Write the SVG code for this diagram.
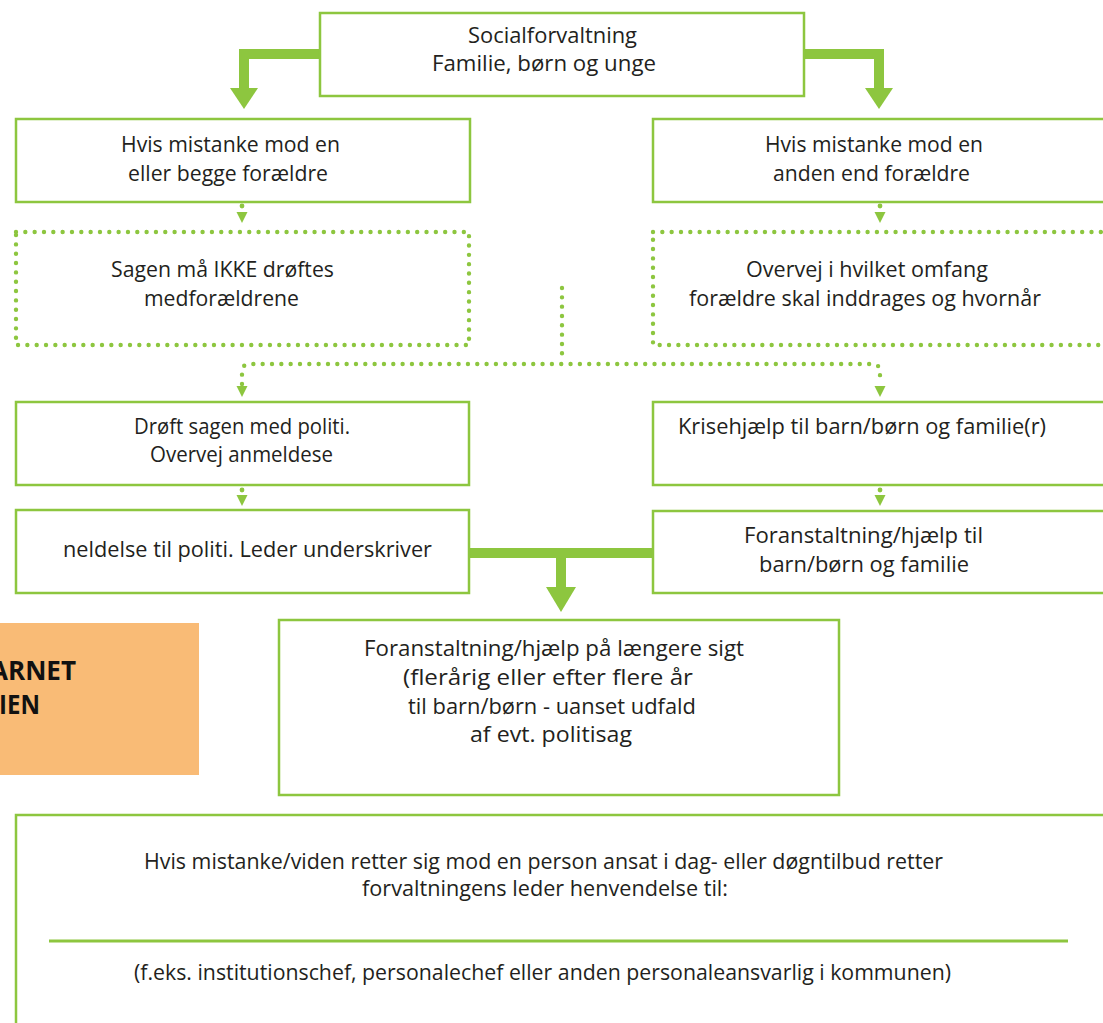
<svg xmlns="http://www.w3.org/2000/svg" width="1103" height="1023" viewBox="0 0 1103 1023">
<style>
.box{fill:#fff;stroke:#8DC63F;stroke-width:2.5}
.dbox{fill:#fff;stroke:#8DC63F;stroke-width:4.4;stroke-dasharray:0 9.33;stroke-linecap:round}
.t{font-family:"Open Sans","Noto Sans",sans-serif;font-size:21px;fill:#231F20}
.b{font-family:"Open Sans","Noto Sans",sans-serif;font-size:27px;font-weight:700;fill:#111}
.thick{fill:none;stroke:#8DC63F;stroke-width:10;stroke-linejoin:miter}
.dot{fill:none;stroke:#8DC63F;stroke-width:4.4;stroke-dasharray:0 9.33;stroke-linecap:round}
.ah{fill:#8DC63F}
</style>
<rect width="1103" height="1023" fill="#fff"/>
<g id="connectors">
<path class="thick" d="M320 54 H244 V90"/>
<polygon class="ah" points="230,88 258,88 244,109"/>
<path class="thick" d="M804 54 H879 V90"/>
<polygon class="ah" points="865,88 893,88 879,109"/>
<circle class="ah" cx="242" cy="206" r="2.4"/>
<polygon class="ah" points="236.5,212 247.5,212 242,223"/>
<circle class="ah" cx="880" cy="206" r="2.4"/>
<polygon class="ah" points="874.5,212 885.5,212 880,223"/>
<path class="dot" d="M562 288 V356"/>
<path class="dot" d="M242 384 V372 Q242 364 250 364 H872 Q880 364 880 372 V384"/>
<polygon class="ah" points="236.5,386 247.5,386 242,397"/>
<polygon class="ah" points="874.5,386 885.5,386 880,397"/>
<circle class="ah" cx="242" cy="490" r="2.4"/>
<polygon class="ah" points="236.5,495 247.5,495 242,506"/>
<circle class="ah" cx="880" cy="490" r="2.4"/>
<polygon class="ah" points="874.5,495 885.5,495 880,506"/>
<path class="thick" d="M470 553 H653 M561 553 V590"/>
<polygon class="ah" points="546,587 576,587 561,612"/>
</g>
<g id="n-social">
<rect class="box" x="320" y="13" width="484" height="83"/>
<text class="t" x="468" y="43" textLength="169" lengthAdjust="spacingAndGlyphs">Socialforvaltning</text>
<text class="t" x="432" y="71" textLength="224" lengthAdjust="spacingAndGlyphs">Familie, børn og unge</text>
</g>
<g id="n-foraeldre">
<rect class="box" x="16" y="119" width="454" height="83"/>
<text class="t" x="121" y="152" textLength="219" lengthAdjust="spacingAndGlyphs">Hvis mistanke mod en</text>
<text class="t" x="128" y="181" textLength="200" lengthAdjust="spacingAndGlyphs">eller begge forældre</text>
</g>
<g id="n-anden">
<rect class="box" x="653" y="119" width="460" height="83"/>
<text class="t" x="765" y="152" textLength="218" lengthAdjust="spacingAndGlyphs">Hvis mistanke mod en</text>
<text class="t" x="773" y="181" textLength="197" lengthAdjust="spacingAndGlyphs">anden end forældre</text>
</g>
<g id="n-ikke">
<rect class="dbox" x="16" y="232" width="453" height="113"/>
<text class="t" x="111" y="277" textLength="223" lengthAdjust="spacingAndGlyphs">Sagen må IKKE drøftes</text>
<text class="t" x="144" y="306" textLength="155" lengthAdjust="spacingAndGlyphs">medforældrene</text>
</g>
<g id="n-omfang">
<rect class="dbox" x="653" y="232" width="460" height="113"/>
<text class="t" x="746" y="277" textLength="242" lengthAdjust="spacingAndGlyphs">Overvej i hvilket omfang</text>
<text class="t" x="689" y="306" textLength="352" lengthAdjust="spacingAndGlyphs">forældre skal inddrages og hvornår</text>
</g>
<g id="n-politi">
<rect class="box" x="16" y="402" width="453" height="83"/>
<text class="t" x="134" y="434" textLength="216" lengthAdjust="spacingAndGlyphs">Drøft sagen med politi.</text>
<text class="t" x="150" y="462" textLength="183" lengthAdjust="spacingAndGlyphs">Overvej anmeldese</text>
</g>
<g id="n-krise">
<rect class="box" x="653" y="402" width="460" height="83"/>
<text class="t" x="678" y="434" textLength="368" lengthAdjust="spacingAndGlyphs">Krisehjælp til barn/børn og familie(r)</text>
</g>
<g id="n-anmeldelse">
<rect class="box" x="16" y="510" width="453" height="83"/>
<text class="t" x="63" y="557" textLength="369" lengthAdjust="spacingAndGlyphs">neldelse til politi. Leder underskriver</text>
</g>
<g id="n-foranst">
<rect class="box" x="653" y="511" width="460" height="82"/>
<text class="t" x="744" y="543" textLength="239" lengthAdjust="spacingAndGlyphs">Foranstaltning/hjælp til</text>
<text class="t" x="759" y="572" textLength="210" lengthAdjust="spacingAndGlyphs">barn/børn og familie</text>
</g>
<g id="n-orange">
<rect x="0" y="623" width="199" height="152" fill="#F9BB76"/>
<text class="b" x="-10" y="680" textLength="86" lengthAdjust="spacingAndGlyphs">ARNET</text>
<text class="b" x="-1" y="714" textLength="41" lengthAdjust="spacingAndGlyphs">IEN</text>
</g>
<g id="n-langsigt">
<rect class="box" x="279" y="620" width="560" height="175"/>
<text class="t" x="364" y="656" textLength="380" lengthAdjust="spacingAndGlyphs">Foranstaltning/hjælp på længere sigt</text>
<text class="t" x="403" y="685" textLength="290" lengthAdjust="spacingAndGlyphs">(flerårig eller efter flere år</text>
<text class="t" x="408" y="714" textLength="288" lengthAdjust="spacingAndGlyphs">til barn/børn - uanset udfald</text>
<text class="t" x="470" y="742" textLength="162" lengthAdjust="spacingAndGlyphs">af evt. politisag</text>
</g>
<g id="n-ansat">
<rect class="box" x="16" y="815" width="1100" height="220"/>
<text class="t" x="144" y="869" textLength="799" lengthAdjust="spacingAndGlyphs">Hvis mistanke/viden retter sig mod en person ansat i dag- eller døgntilbud retter</text>
<text class="t" x="362" y="896" textLength="366" lengthAdjust="spacingAndGlyphs">forvaltningens leder henvendelse til:</text>
<line x1="49" y1="941" x2="1068" y2="941" stroke="#8DC63F" stroke-width="3"/>
<text class="t" x="134" y="980" textLength="817" lengthAdjust="spacingAndGlyphs">(f.eks. institutionschef, personalechef eller anden personaleansvarlig i kommunen)</text>
</g>
</svg>
